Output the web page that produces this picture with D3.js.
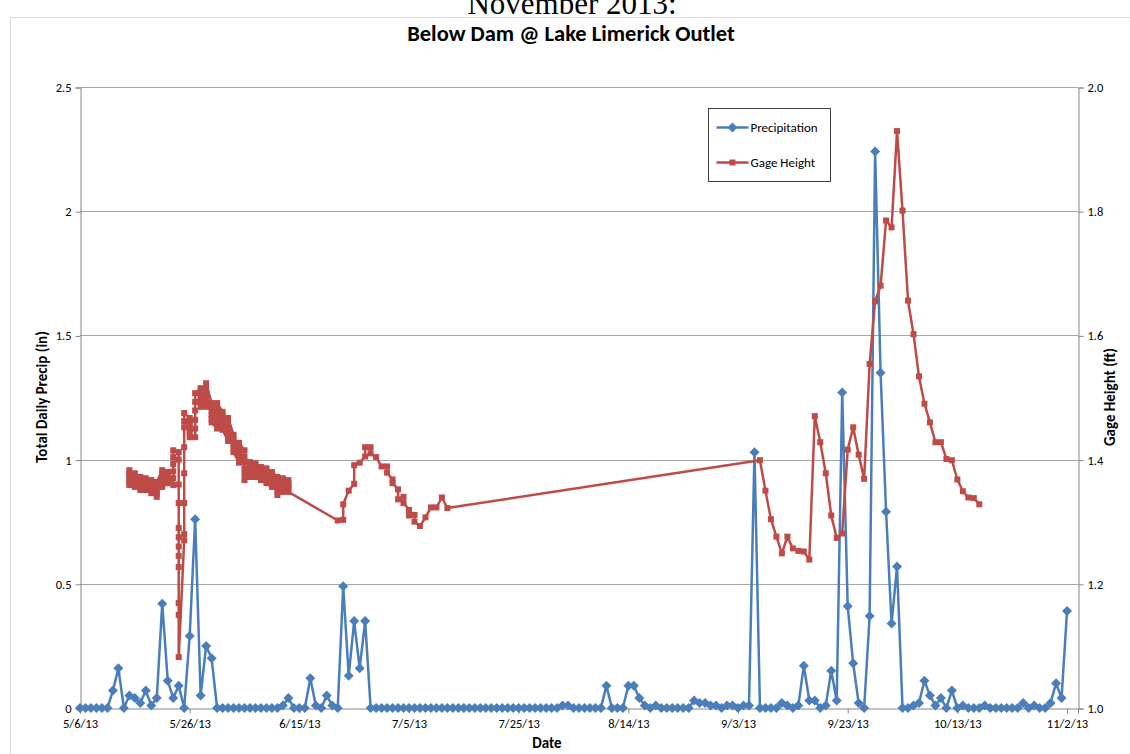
<!DOCTYPE html>
<html>
<head>
<meta charset="utf-8">
<script src="https://cdn.jsdelivr.net/npm/d3@7"></script>
<style>
  body { margin: 0; background: #fff; }
  svg { display: block; }
  text { font-family: Carlito, Calibri, Lato, "Open Sans", sans-serif; }
</style>
</head>
<body>
<div id="chart"></div>
<script>
// chart texts
var pageHeading = "November 2013:";
var chartTitle = "Below Dam @ Lake Limerick Outlet";
var seriesNames = ["Precipitation", "Gage Height"];

// axis ticks
var xTickLabels = ["5/6/13", "5/26/13", "6/15/13", "7/5/13", "7/25/13", "8/14/13", "9/3/13", "9/23/13", "10/13/13", "11/2/13"];
var leftTicks = [0, 0.5, 1, 1.5, 2, 2.5];
var rightTicks = [1.0, 1.2, 1.4, 1.6, 1.8, 2.0];

// total daily precipitation (in), one value per day starting 5/6/13
var precipStart = "5/6/13";
var precipValues = [
  0, 0, 0, 0, 0, 0, 0.07, 0.16, 0, 0.05,
  0.04, 0.02, 0.07, 0.01, 0.04, 0.42, 0.11, 0.04, 0.09, 0,
  0.29, 0.76, 0.05, 0.25, 0.20, 0, 0, 0, 0, 0,
  0, 0, 0, 0, 0, 0, 0, 0.01, 0.04, 0,
  0, 0, 0.12, 0.01, 0, 0.05, 0.01, 0, 0.49, 0.13,
  0.35, 0.16, 0.35, 0, 0, 0, 0, 0, 0, 0,
  0, 0, 0, 0, 0, 0, 0, 0, 0, 0,
  0, 0, 0, 0, 0, 0, 0, 0, 0, 0,
  0, 0, 0, 0, 0, 0, 0, 0, 0.01, 0.01,
  0, 0, 0, 0, 0, 0, 0.09, 0, 0, 0,
  0.09, 0.09, 0.04, 0.01, 0, 0.01, 0, 0, 0, 0,
  0, 0, 0.03, 0.02, 0.02, 0.01, 0.01, 0, 0.01, 0.01,
  0, 0.01, 0.01, 1.03, 0, 0, 0, 0, 0.02, 0.01,
  0, 0.01, 0.17, 0.03, 0.03, 0, 0.01, 0.15, 0.03, 1.27,
  0.41, 0.18, 0.02, 0, 0.37, 2.24, 1.35, 0.79, 0.34, 0.57,
  0, 0, 0.01, 0.02, 0.11, 0.05, 0.01, 0.04, 0, 0.07,
  0, 0.01, 0, 0, 0, 0.01, 0, 0, 0, 0,
  0, 0, 0.02, 0, 0.01, 0, 0, 0.02, 0.10, 0.04,
  0.39
];

// gage height (ft): readings logged per date (several readings share a date)
var gageDates = [
  "5/15/13", "5/16/13", "5/17/13", "5/18/13", "5/19/13", "5/20/13", "5/21/13", "5/22/13", "5/23/13", "5/24/13",
  "5/25/13", "5/26/13", "5/27/13", "5/28/13", "5/29/13", "5/30/13", "5/31/13", "6/1/13", "6/2/13", "6/3/13",
  "6/4/13", "6/5/13", "6/6/13", "6/7/13", "6/8/13", "6/9/13", "6/10/13", "6/11/13", "6/12/13", "6/13/13",
  "6/22/13", "6/23/13", "6/24/13", "6/25/13", "6/26/13", "6/27/13", "6/28/13", "6/29/13", "6/30/13", "7/1/13",
  "7/2/13", "7/3/13", "7/4/13", "7/5/13", "7/6/13", "7/7/13", "7/8/13", "7/9/13", "7/10/13", "7/11/13",
  "7/12/13", "9/7/13", "9/8/13", "9/9/13", "9/10/13", "9/11/13", "9/12/13", "9/13/13", "9/14/13", "9/15/13",
  "9/16/13", "9/17/13", "9/18/13", "9/19/13", "9/20/13", "9/21/13", "9/22/13", "9/23/13", "9/24/13", "9/25/13",
  "9/26/13", "9/27/13", "9/28/13", "9/29/13", "9/30/13", "10/1/13", "10/2/13", "10/3/13", "10/4/13", "10/5/13",
  "10/6/13", "10/7/13", "10/8/13", "10/9/13", "10/10/13", "10/11/13", "10/12/13", "10/13/13", "10/14/13", "10/15/13",
  "10/16/13", "10/17/13"
];
var gageReadings = [
  [1.383, 1.378, 1.374, 1.369, 1.364, 1.359], [1.356, 1.361, 1.365, 1.370, 1.374, 1.378],
  [1.372, 1.368, 1.364, 1.359, 1.355, 1.351], [1.351, 1.355, 1.359, 1.362, 1.366, 1.370],
  [1.367, 1.363, 1.359, 1.354, 1.350, 1.346], [1.340, 1.345, 1.350, 1.354, 1.359, 1.364],
  [1.383, 1.378, 1.372, 1.367, 1.361, 1.356], [1.362, 1.366, 1.369, 1.373, 1.376, 1.380],
  [1.359, 1.370, 1.381, 1.393, 1.404, 1.415],
  [1.412, 1.400, 1.360, 1.330, 1.290, 1.275, 1.260, 1.245, 1.227, 1.169, 1.150, 1.082],
  [1.270, 1.280, 1.330, 1.378, 1.420, 1.452, 1.462, 1.475],
  [1.467, 1.461, 1.455, 1.448, 1.442, 1.436], [1.436, 1.450, 1.464, 1.479, 1.493, 1.507],
  [1.515, 1.509, 1.503, 1.497, 1.491, 1.485], [1.485, 1.493, 1.500, 1.508, 1.515, 1.523],
  [1.491, 1.485, 1.479, 1.472, 1.466, 1.460], [1.450, 1.458, 1.466, 1.475, 1.483, 1.491],
  [1.477, 1.471, 1.465, 1.460, 1.454, 1.448], [1.430, 1.437, 1.445, 1.452, 1.460, 1.467],
  [1.440, 1.434, 1.429, 1.423, 1.418, 1.412], [1.395, 1.401, 1.408, 1.414, 1.421, 1.427],
  [1.415, 1.405, 1.396, 1.386, 1.377, 1.367], [1.372, 1.377, 1.382, 1.386, 1.391, 1.396],
  [1.394, 1.390, 1.385, 1.381, 1.376, 1.372], [1.367, 1.371, 1.375, 1.380, 1.384, 1.388],
  [1.386, 1.381, 1.376, 1.372, 1.367, 1.362], [1.356, 1.361, 1.366, 1.370, 1.375, 1.380],
  [1.372, 1.366, 1.360, 1.355, 1.349, 1.343], [1.348, 1.352, 1.357, 1.361, 1.366, 1.370],
  [1.367, 1.363, 1.359, 1.356, 1.352, 1.348],
  [1.302], [1.303, 1.328], [1.350], [1.361, 1.391], [1.395], [1.405, 1.420], [1.420, 1.410],
  [1.404], [1.389], [1.389, 1.379], [1.368, 1.362], [1.352, 1.336], [1.340, 1.330],
  [1.319, 1.310], [1.311, 1.300], [1.293], [1.307], [1.323], [1.323], [1.339], [1.322],
  [1.399], [1.350], [1.304], [1.276], [1.249], [1.276], [1.257], [1.253], [1.252],
  [1.239], [1.470], [1.428], [1.378], [1.310], [1.274], [1.281], [1.416], [1.452], [1.408],
  [1.369], [1.554], [1.655], [1.680], [1.785], [1.774], [1.929], [1.801], [1.656], [1.602],
  [1.534], [1.490], [1.460], [1.428], [1.428], [1.401], [1.399], [1.368], [1.349], [1.339],
  [1.338], [1.328]
];

var W = 1130, H = 754;
var plot = {left: 80, right: 1078, top: 87, bottom: 708};
var blue = "#4a7ebb", red = "#be4b48";
var parseDate = d3.timeParse("%m/%d/%y");

var svg = d3.select("#chart").append("svg")
  .attr("width", W)
  .attr("height", H);

// heading that sits behind the chart, its top runs off the page
svg.append("text")
  .attr("x", 572).attr("y", 14)
  .attr("text-anchor", "middle")
  .style("font-family", "'Liberation Serif', 'DejaVu Serif', serif")
  .style("font-size", "31px")
  .text(pageHeading);

// chart area border
svg.append("rect")
  .attr("x", 10.5).attr("y", 17.5)
  .attr("width", W).attr("height", H)
  .attr("fill", "#fff")
  .attr("stroke", "#d9d9d9");

var start = parseDate(precipStart);
var x = d3.scaleTime()
  .domain([start, d3.timeDay.offset(parseDate(xTickLabels[xTickLabels.length - 1]), 2)])
  .range([plot.left, plot.right]);
var yL = d3.scaleLinear().domain([0, 2.5]).range([plot.bottom, plot.top]);
var yR = d3.scaleLinear().domain([1, 2]).range([plot.bottom, plot.top]);

// gridlines
svg.append("g")
  .selectAll("line")
  .data(leftTicks.slice(1))
  .enter().append("line")
  .attr("x1", plot.left).attr("x2", plot.right)
  .attr("y1", function(d) { return Math.round(yL(d)) + 0.5; })
  .attr("y2", function(d) { return Math.round(yL(d)) + 0.5; })
  .attr("stroke", "#a6a6a6");

// axes
var axisLeft = svg.append("g")
  .attr("transform", "translate(" + (plot.left + 0.5) + ",0.5)")
  .call(d3.axisLeft(yL).tickValues(leftTicks).tickSize(5).tickPadding(4)
    .tickFormat(function(d) { return String(d); }));

var axisRight = svg.append("g")
  .attr("transform", "translate(" + (plot.right + 0.5) + ",0.5)")
  .call(d3.axisRight(yR).tickValues(rightTicks).tickSize(5).tickPadding(4)
    .tickFormat(d3.format(".1f")));

var axisBottom = svg.append("g")
  .attr("transform", "translate(0," + (plot.bottom + 0.5) + ")")
  .call(d3.axisBottom(x).tickValues(xTickLabels.map(parseDate)).tickSize(5).tickPadding(6)
    .tickFormat(function(d, i) { return xTickLabels[i]; }));

[axisLeft, axisRight, axisBottom].forEach(function(g) {
  g.select(".domain").attr("stroke", "#868686");
  g.selectAll(".tick line").attr("stroke", "#868686");
  g.selectAll(".tick text")
    .style("font-family", "Carlito, Calibri, Lato, sans-serif")
    .style("font-size", "12.5px")
    .attr("fill", "#000");
});

// precipitation series
var precip = precipValues.map(function(v, i) {
  return {date: d3.timeDay.offset(start, i), value: v};
});

svg.append("path")
  .datum(precip)
  .attr("fill", "none")
  .attr("stroke", blue)
  .attr("stroke-width", 2.5)
  .attr("stroke-linejoin", "round")
  .attr("d", d3.line()
    .x(function(d) { return x(d.date); })
    .y(function(d) { return yL(d.value); }));

var diamond = d3.symbol().type(d3.symbolSquare).size(50);
svg.append("g")
  .selectAll("path")
  .data(precip)
  .enter().append("path")
  .attr("d", diamond)
  .attr("transform", function(d) {
    return "translate(" + x(d.date) + "," + yL(d.value) + ") rotate(45)";
  })
  .attr("fill", blue);

// gage height series
var gage = [];
gageDates.forEach(function(ds, i) {
  gageReadings[i].forEach(function(h) {
    gage.push({date: parseDate(ds), value: h});
  });
});

svg.append("path")
  .datum(gage)
  .attr("fill", "none")
  .attr("stroke", red)
  .attr("stroke-width", 2.5)
  .attr("stroke-linejoin", "round")
  .attr("d", d3.line()
    .x(function(d) { return x(d.date); })
    .y(function(d) { return yR(d.value); }));

svg.append("g")
  .selectAll("rect")
  .data(gage)
  .enter().append("rect")
  .attr("x", function(d) { return x(d.date) - 3; })
  .attr("y", function(d) { return yR(d.value) - 3; })
  .attr("width", 6).attr("height", 6)
  .attr("fill", red);

// titles
svg.append("text")
  .attr("x", 571).attr("y", 41)
  .attr("text-anchor", "middle")
  .style("font-size", "22.5px")
  .style("font-weight", "bold")
  .text(chartTitle);

svg.append("text")
  .attr("transform", "translate(47,397) rotate(-90)")
  .attr("text-anchor", "middle")
  .style("font-size", "15px")
  .style("font-weight", "bold")
  .text("Total Daily Precip (in)");

svg.append("text")
  .attr("transform", "translate(1115,397) rotate(-90)")
  .attr("text-anchor", "middle")
  .style("font-size", "15px")
  .style("font-weight", "bold")
  .text("Gage Height (ft)");

svg.append("text")
  .attr("x", 547).attr("y", 748)
  .attr("text-anchor", "middle")
  .style("font-size", "15px")
  .style("font-weight", "bold")
  .text("Date");

// legend
var legend = svg.append("g").attr("transform", "translate(708.5,108.5)");
legend.append("rect")
  .attr("width", 122).attr("height", 73)
  .attr("fill", "#fff")
  .attr("stroke", "#404040");

var legendRows = [
  {name: seriesNames[0], color: blue, y: 19, marker: "diamond"},
  {name: seriesNames[1], color: red, y: 54, marker: "square"}
];
legendRows.forEach(function(r) {
  legend.append("line")
    .attr("x1", 8).attr("x2", 40)
    .attr("y1", r.y).attr("y2", r.y)
    .attr("stroke", r.color).attr("stroke-width", 2.5);
  if (r.marker === "diamond") {
    legend.append("path")
      .attr("d", diamond)
      .attr("transform", "translate(24," + r.y + ") rotate(45)")
      .attr("fill", r.color);
  } else {
    legend.append("rect")
      .attr("x", 21).attr("y", r.y - 3)
      .attr("width", 6).attr("height", 6)
      .attr("fill", r.color);
  }
  legend.append("text")
    .attr("x", 42).attr("y", r.y + 4)
    .style("font-size", "13px")
    .text(r.name);
});
</script>
</body>
</html>
